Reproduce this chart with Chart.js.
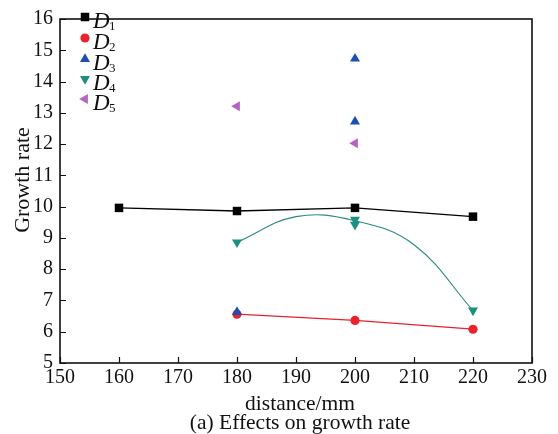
<!DOCTYPE html>
<html>
<head>
<meta charset="utf-8">
<script src="https://cdn.jsdelivr.net/npm/chart.js@4.4.1/dist/chart.umd.min.js"></script>
<style>
  html, body { margin: 0; padding: 0; background: #fff; }
  canvas { display: block; }
</style>
</head>
<body>
<canvas id="growthChart" width="558" height="434"></canvas>
<script>
const xTicks = [150, 160, 170, 180, 190, 200, 210, 220, 230];
const yTicks = [5, 6, 7, 8, 9, 10, 11, 12, 13, 14, 15, 16];

const seriesNames = ['1', '2', '3', '4', '5'];

const d1X = [160, 180, 200, 220];
const d1Y = [9.96, 9.86, 9.96, 9.68];
const d2X = [180, 200, 220];
const d2Y = [6.56, 6.36, 6.08];
const d3X = [180, 200, 200];
const d3Y = [6.63, 14.73, 12.72];
const d4X = [180, 200, 200, 220];
const d4Y = [8.86, 9.58, 9.42, 6.68];
// fitted D4 curve
const d4FitX = [180, 190, 200, 210, 220];
const d4FitY = [8.86, 9.68, 9.55, 8.78, 6.68];
const d5X = [180, 200];
const d5Y = [13.21, 12.03];

const serif = '"Liberation Serif", "Times New Roman", serif';

function pts(xs, ys) {
  return xs.map((x, i) => ({ x, y: ys[i] }));
}

const markers = [
  { color: '#000000', style: 'rect', radius: 6, rotation: 0 },
  { color: '#e8222e', style: 'circle', radius: 4.6, rotation: 0 },
  { color: '#1f4fae', style: 'triangle', radius: 5.8, rotation: 0 },
  { color: '#1f8f80', style: 'triangle', radius: 5.8, rotation: 180 },
  { color: '#b562c2', style: 'triangle', radius: 5.8, rotation: -90 }
];

function markerDataset(i, data, extra) {
  const m = markers[i];
  return Object.assign({
    label: 'D' + seriesNames[i],
    data,
    pointStyle: m.style,
    pointRadius: m.radius,
    pointRotation: m.rotation,
    pointBackgroundColor: m.color,
    pointBorderColor: m.color,
    pointBorderWidth: 0,
    borderColor: m.color,
    backgroundColor: m.color,
    showLine: false
  }, extra || {});
}

const frameAndTicks = {
  id: 'frameAndTicks',
  beforeDatasetsDraw(chart) {
    const { ctx, chartArea: a, scales } = chart;
    ctx.save();
    ctx.strokeStyle = '#111';
    ctx.lineWidth = 1.6;
    ctx.strokeRect(a.left, a.top, a.right - a.left, a.bottom - a.top);
    ctx.lineWidth = 1.2;
    ctx.beginPath();
    xTicks.forEach(v => {
      const px = Math.round(scales.x.getPixelForValue(v)) + 0.5;
      ctx.moveTo(px, a.bottom);
      ctx.lineTo(px, a.bottom - 6);
    });
    yTicks.forEach(v => {
      const py = Math.round(scales.y.getPixelForValue(v)) + 0.5;
      ctx.moveTo(a.left, py);
      ctx.lineTo(a.left + 6, py);
    });
    ctx.stroke();
    ctx.restore();
  },
  afterDraw(chart) {
    const { ctx, chartArea: a } = chart;
    ctx.save();
    ctx.fillStyle = '#111';
    ctx.textAlign = 'center';
    ctx.textBaseline = 'alphabetic';
    ctx.font = '21.5px ' + serif;
    const cx = (a.left + a.right) / 2 + 4;
    ctx.fillText('distance/mm', cx, 410);
    ctx.fillText('(a) Effects on growth rate', cx, 429);
    ctx.save();
    ctx.translate(29, 180);
    ctx.rotate(-Math.PI / 2);
    ctx.font = '22px ' + serif;
    ctx.fillText('Growth rate', 0, 0);
    ctx.restore();

    // legend
    const rows = [17, 38, 59, 79, 99];
    markers.forEach((m, i) => {
      const y = rows[i];
      ctx.fillStyle = m.color;
      Chart.helpers.drawPoint(ctx, {
        pointStyle: m.style, radius: m.radius, rotation: m.rotation, borderWidth: 0
      }, 85, y);
      ctx.fillStyle = '#111';
      ctx.textAlign = 'left';
      ctx.font = 'italic 23px ' + serif;
      ctx.fillText('D', 93, y + 11);
      ctx.font = '13px ' + serif;
      ctx.fillText(seriesNames[i], 109, y + 13);
    });
    ctx.restore();
  }
};

new Chart(document.getElementById('growthChart'), {
  type: 'scatter',
  data: {
    datasets: [
      markerDataset(0, pts(d1X, d1Y), { showLine: true, borderWidth: 1.3, order: 5 }),
      markerDataset(1, pts(d2X, d2Y), { showLine: true, borderWidth: 1.3, order: 4 }),
      markerDataset(2, pts(d3X, d3Y), { order: 1 }),
      markerDataset(3, pts(d4X, d4Y), { order: 2 }),
      {
        label: 'D4 fit',
        data: pts(d4FitX, d4FitY),
        showLine: true,
        pointRadius: 0,
        borderColor: '#2a8a7e',
        borderWidth: 1.1,
        tension: 0.4,
        order: 6
      },
      markerDataset(4, pts(d5X, d5Y), { order: 3 })
    ]
  },
  options: {
    responsive: false,
    animation: false,
    devicePixelRatio: 1,
    layout: { padding: { top: 13, right: 26, left: 0, bottom: 0 } },
    plugins: {
      legend: { display: false },
      tooltip: { enabled: false }
    },
    scales: {
      x: {
        type: 'linear',
        min: xTicks[0],
        max: xTicks[xTicks.length - 1],
        afterBuildTicks: s => { s.ticks = xTicks.map(v => ({ value: v })); },
        afterFit: s => { s.height = 71; },
        grid: { display: false, drawTicks: false },
        border: { display: false },
        ticks: {
          color: '#111',
          padding: 3,
          maxRotation: 0,
          font: { family: serif, size: 20 }
        }
      },
      y: {
        type: 'linear',
        min: yTicks[0],
        max: yTicks[yTicks.length - 1],
        afterBuildTicks: s => { s.ticks = yTicks.map(v => ({ value: v })); },
        afterFit: s => { s.width = 60; },
        grid: { display: false, drawTicks: false },
        border: { display: false },
        ticks: {
          color: '#111',
          padding: 7,
          font: { family: serif, size: 20 }
        }
      }
    }
  },
  plugins: [frameAndTicks]
});
</script>
</body>
</html>
